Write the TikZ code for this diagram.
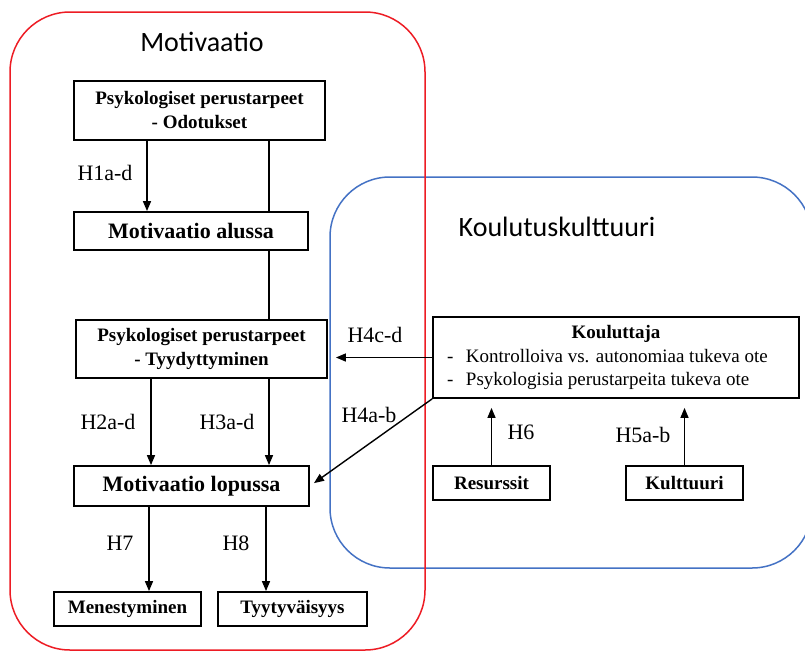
\documentclass[tikz,border=0pt]{standalone}
\usepackage{fontspec}
\setmainfont{Liberation Serif}
\newfontfamily\titlefont{Carlito}
\usetikzlibrary{arrows.meta}
\definecolor{redc}{RGB}{237,28,36}
\definecolor{bluec}{RGB}{68,114,196}
\pgfdeclarelayer{bg}
\pgfsetlayers{bg,main}
\begin{document}
\begin{tikzpicture}[x=1pt,y=-1pt,
  box/.style={draw, line width=1.8pt, fill=white, inner sep=0pt, align=center,
    font=\fontsize{19}{24}\selectfont\bfseries},
  bigbox/.style={box, font=\fontsize{22}{26}\selectfont\bfseries},
  arr/.style={-{Triangle[length=10pt,width=8pt]}, line width=1.4pt},
  plain/.style={line width=1.4pt},
  lab/.style={font=\fontsize{22}{26}\selectfont, inner sep=0pt},
  ttl/.style={font=\titlefont\fontsize{28}{32}\selectfont, inner sep=0pt}]
\clip (0,0) rectangle (805,653);
% containers
\draw[bluec, line width=1.5pt, rounded corners=60pt] (330,177) rectangle (812,568);
\draw[redc, line width=1.5pt, rounded corners=60pt] (10,12) rectangle (425,650);
\node[ttl] (tmot) at (202,42) {Motivaatio};
\node[ttl] (tkou) at (557,227) {Koulutuskulttuuri};
% column coordinates
\coordinate (v1) at (269,0);
\coordinate (v2) at (151,0);
\coordinate (v3) at (149,0);
\coordinate (v4) at (266,0);
\coordinate (v5) at (147,0);
% boxes
\node[box, minimum width=251pt, minimum height=59pt] (b1) at (199.5,110.5) {Psykologiset perustarpeet\\- Odotukset};
\node[bigbox, minimum width=234pt, minimum height=38pt] (b2) at (191,231) {Motivaatio alussa};
\node[box, minimum width=251pt, minimum height=58pt] (b3) at (201.5,349) {Psykologiset perustarpeet\\- Tyydyttyminen};
\node[bigbox, minimum width=235pt, minimum height=40pt] (b4) at (191.5,486) {Motivaatio lopussa};
\node[box, minimum width=147pt, minimum height=34pt] (b5) at (127.5,609) {Menestyminen};
\node[box, minimum width=149pt, minimum height=34pt] (b6) at (292.5,609) {Tyytyväisyys};
\node[box, font=\fontsize{19}{23.5}\selectfont\mdseries, minimum width=366pt, minimum height=81pt] (kou) at (616,357.5)
  {\parbox{366pt}{\centering\textbf{Kouluttaja}\par\raggedright
   \hspace*{14pt}\makebox[19pt][l]{-}Kontrolloiva vs. autonomiaa tukeva ote\par
   \hspace*{14pt}\makebox[19pt][l]{-}Psykologisia perustarpeita tukeva ote}};
\node[box, minimum width=117pt, minimum height=34pt] (res) at (491.5,483) {Resurssit};
\node[box, minimum width=117pt, minimum height=34pt] (kul) at (684.5,483) {Kulttuuri};
% connectors
\begin{pgfonlayer}{bg}
\draw[plain] (b1.south -| v1) -- (b3.north -| v1);
\end{pgfonlayer}
\draw[arr] (b1.south -| v5) -- (b2.north -| v5);
\draw[arr] (b3.south -| v2) -- (b4.north -| v2);
\draw[arr] (b3.south -| v1) -- (b4.north -| v1);
\draw[arr] (b4.south -| v3) -- (b5.north -| v3);
\draw[arr] (b4.south -| v4) -- (b6.north -| v4);
\draw[arr, shorten >=8pt] (kou.west) -- (kou.west -| b3.east);
\draw[arr, shorten >=5pt] (kou.south west) -- (b4.east);
\draw[arr, shorten >=9pt] (res.north) -- (kou.south -| res.north);
\draw[arr, shorten >=9pt] (kul.north) -- (kou.south -| kul.north);
% labels
\node[lab] (l1) at (105,173) {H1a-d};
\node[lab] (l2) at (108,422) {H2a-d};
\node[lab] (l3) at (227,422) {H3a-d};
\node[lab] (l7) at (120,543) {H7};
\node[lab] (l8) at (236,543) {H8};
\node[lab] (l4c) at (375,335) {H4c-d};
\node[lab] (l4a) at (369,415) {H4a-b};
\node[lab] (l6) at (521,432) {H6};
\node[lab] (l5) at (643,435) {H5a-b};
\end{tikzpicture}
\end{document}
